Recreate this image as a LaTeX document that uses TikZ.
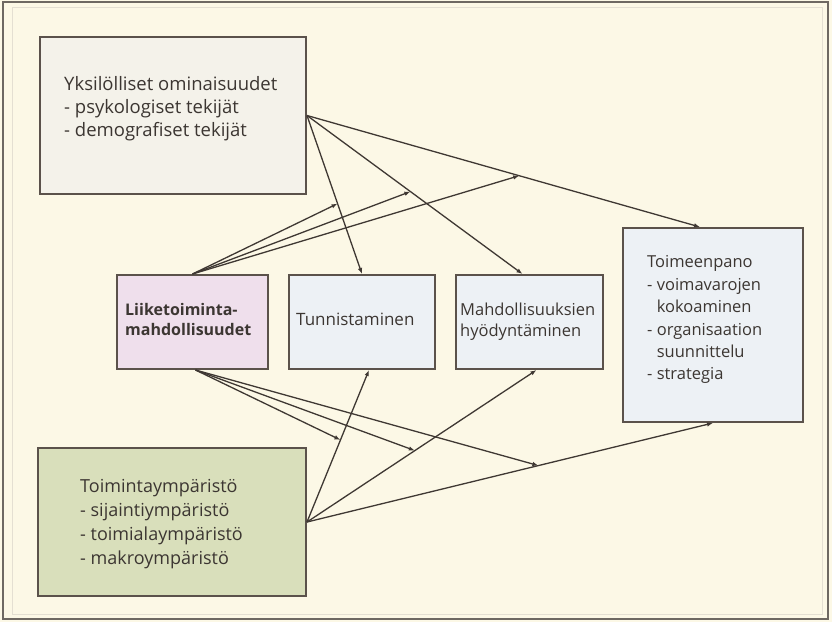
\documentclass[tikz,border=0pt]{standalone}
\usepackage{fontspec}
\setmainfont{Open Sans}
\usetikzlibrary{arrows.meta,calc}
\definecolor{bg}{HTML}{FCF8E6}
\definecolor{frame}{HTML}{6E6862}
\definecolor{innerline}{HTML}{E4DFD2}
\definecolor{border}{HTML}{5B524B}
\definecolor{ink}{HTML}{3C3632}
\definecolor{wire}{HTML}{3F3833}
\definecolor{fgray}{HTML}{F4F2EA}
\definecolor{fpink}{HTML}{EFDFEC}
\definecolor{fblue}{HTML}{EDF1F5}
\definecolor{fgreen}{HTML}{D9DFBB}
\tikzset{
  box/.style={draw=border, line width=2pt, rectangle, inner sep=0pt},
  label text/.style={text=ink, align=left, inner sep=0pt, anchor=north west},
  conn/.style={draw=wire, line width=1.3pt, -{Latex[length=6pt,width=4.5pt]}}
}
\begin{document}
\begin{tikzpicture}[x=1pt,y=-1pt]
\useasboundingbox (0,0) rectangle (832,622);
\fill[bg] (0,0) rectangle (832,622);
\draw[innerline, line width=1pt] (12,7) rectangle (822,614);
\draw[frame, line width=2.5pt] (3,2) rectangle (828,619);

% boxes
\node[box, fill=fgray, minimum width=266pt, minimum height=157pt, anchor=north west] (yks) at (39,36) {};
\node[box, fill=fpink, minimum width=151pt, minimum height=94pt, anchor=north west] (lik) at (116,274) {};
\node[box, fill=fblue, minimum width=146pt, minimum height=94pt, anchor=north west] (tun) at (288,274) {};
\node[box, fill=fblue, minimum width=147pt, minimum height=94pt, anchor=north west] (mah) at (455,274) {};
\node[box, fill=fblue, minimum width=180pt, minimum height=194pt, anchor=north west] (toi) at (622,227) {};
\node[box, fill=fgreen, minimum width=268pt, minimum height=148pt, anchor=north west] (tym) at (37,447) {};

% texts
\node[label text, font=\fontsize{18.5}{23}\selectfont] (yks-t) at (64,76.5) {Yksilölliset ominaisuudet\\- psykologiset tekijät\\- demografiset tekijät};
\node[label text, font=\fontsize{16}{20.5}\selectfont\bfseries] (lik-t) at (125,303) {Liiketoiminta-\\mahdollisuudet};
\node[label text, font=\fontsize{17}{23}\selectfont] (tun-t) at (296,312.5) {Tunnistaminen};
\node[label text, font=\fontsize{16.5}{20.5}\selectfont] (mah-t) at (460,303) {Mahdollisuuksien\\hyödyntäminen};
\node[label text, font=\fontsize{16.5}{22.4}\selectfont] (toi-t) at (647,255.5) {Toimeenpano\\- voimavarojen\\\hphantom{- }kokoaminen\\- organisaation\\\hphantom{- }suunnittelu\\- strategia};
\node[label text, font=\fontsize{18}{24}\selectfont] (tym-t) at (80,479) {Toimintaympäristö\\- sijaintiympäristö\\- toimialaympäristö\\- makroympäristö};

% target points
\coordinate (mahN) at ($(mah.north)+(-7,0)$);
\coordinate (toiN) at ($(toi.north)+(-13,0)$);
\coordinate (tunS) at ($(tun.south)+(7,0)$);
\coordinate (mahS) at ($(mah.south)+(7,0)$);

% from individual characteristics
\draw[conn] (yks.east) -- (tun.north);
\draw[conn] (yks.east) -- (mahN);
\draw[conn] (yks.east) -- (toiN);
% from environment
\draw[conn] (tym.east) -- (tunS);
\draw[conn] (tym.east) -- (mahS);
\draw[conn] (tym.east) -- (toi.south);

% moderation points
\coordinate (m1) at ($(yks.east)!0.556!(tun.north)$);
\coordinate (m2) at ($(yks.east)!0.48!(mahN)$);
\coordinate (m3) at ($(yks.east)!0.54!(toiN)$);
\coordinate (n1) at ($(tym.east)!0.54!(tunS)$);
\coordinate (n2) at ($(tym.east)!0.47!(mahS)$);
\coordinate (n3) at ($(tym.east)!0.57!(toi.south)$);

\draw[conn] (lik.north) -- (m1);
\draw[conn] (lik.north) -- (m2);
\draw[conn] (lik.north) -- (m3);
\draw[conn] ($(lik.south)+(3,0)$) -- (n1);
\draw[conn] ($(lik.south)+(3,0)$) -- (n2);
\draw[conn] ($(lik.south)+(3,0)$) -- (n3);
\end{tikzpicture}
\end{document}
